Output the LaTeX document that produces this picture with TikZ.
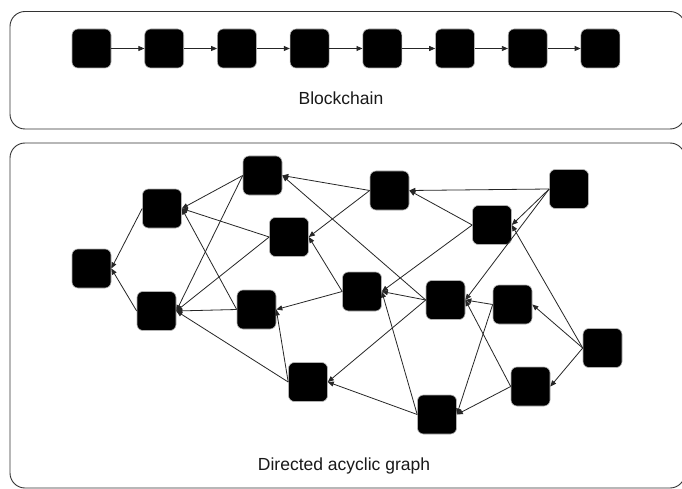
\documentclass[tikz,border=0pt]{standalone}
\usepackage{fontspec}
\setmainfont{Liberation Sans}
\usetikzlibrary{arrows.meta}
\begin{document}
\begin{tikzpicture}[x=1pt,y=-1pt,
 blk/.style={draw=gray!60, line width=0.6pt, fill=black, rounded corners=6pt, minimum width=39pt, minimum height=39pt, inner sep=0pt},
 lnk/.style={draw=black!85, line width=0.8pt, -{Triangle[length=6pt,width=5pt]}},
 frame/.style={draw=black!80, line width=0.9pt, rounded corners=15pt},
 lbl/.style={font=\fontsize{17.5}{20}\selectfont, text=black!90}]
\clip (0,0) rectangle (682,489);
\fill[white] (0,0) rectangle (682,489);
% frames
\draw[frame] (10,11.5) rectangle (685,129);
\draw[frame] (10,143) rectangle (685,488);
% blockchain
\foreach \k in {0,...,7} {
  \node[blk] (c\k) at ({91.5+72.7*\k},48.5) {};
}
\foreach \a/\b in {0/1,1/2,2/3,3/4,4/5,5/6,6/7} {
  \draw[lnk] (c\a.east) -- (c\b.west);
}
\node[lbl] (t1) at (341,98) {Blockchain};
% DAG nodes
\node[blk] (A) at (91.5,268.5) {};
\node[blk] (B) at (162,208.5) {};
\node[blk] (C) at (262.5,175.5) {};
\node[blk] (D) at (289,237) {};
\node[blk] (E) at (156.5,311) {};
\node[blk] (F) at (256.5,309.5) {};
\node[blk] (G) at (362,291.5) {};
\node[blk] (H) at (389.5,190.5) {};
\node[blk] (I) at (569,189) {};
\node[blk] (J) at (492,225) {};
\node[blk] (K) at (445.5,300) {};
\node[blk] (L) at (512.5,304.5) {};
\node[blk] (M) at (602.5,348) {};
\node[blk] (N) at (308,382) {};
\node[blk] (O) at (530.5,386.5) {};
\node[blk] (P) at (437,414.5) {};
% DAG edges (source west -> target east)
\foreach \s/\t in {B/A,E/A,C/B,D/B,F/B,C/E,D/E,F/E,N/E,G/F,N/F,H/C,K/C,H/D,G/D,I/H,J/H,I/J,M/J,I/K,L/K,O/K,J/G,K/G,P/G,K/N,P/N,M/L,M/O,L/P,O/P} {
  \draw[lnk] (\s.west) -- (\t.east);
}
\node[lbl] (t2) at (344,466) {Directed acyclic graph};
\end{tikzpicture}
\end{document}
